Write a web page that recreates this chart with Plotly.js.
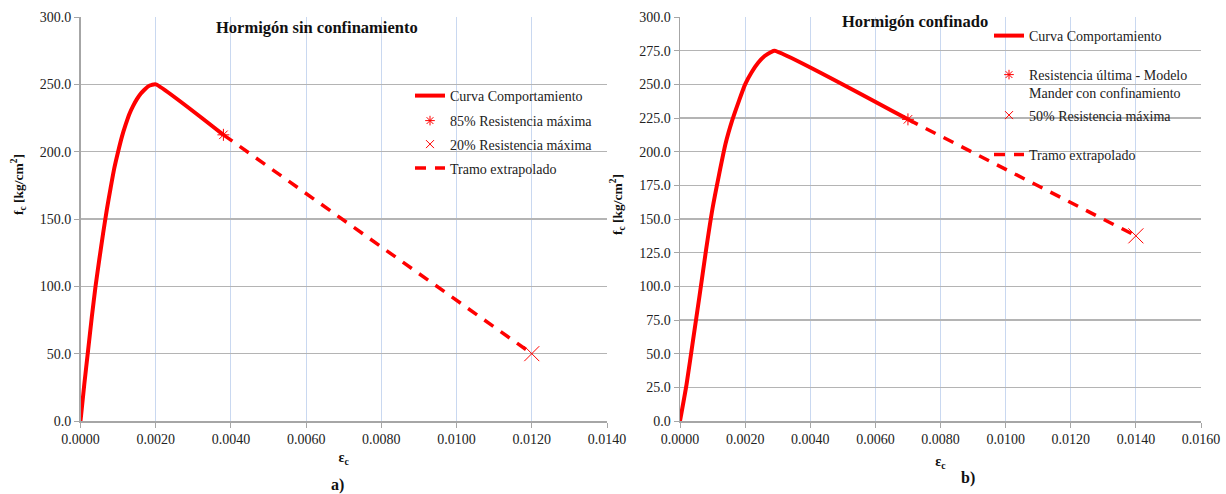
<!DOCTYPE html>
<html>
<head>
<meta charset="utf-8">
<script src="https://cdn.plot.ly/plotly-3.0.1.min.js"></script>
<style>
  html, body { margin: 0; padding: 0; background: #ffffff; }
  #chart { width: 1226px; height: 494px; }
</style>
</head>
<body>
<div id="chart"></div>
<script>
// a) Hormigón sin confinamiento — curva tensión-deformación
const epsSin = [0, 0.0001, 0.0002, 0.0003, 0.0004, 0.0005, 0.0006, 0.0007, 0.0008, 0.0009,
                0.0010, 0.0011, 0.0012, 0.0013, 0.0014, 0.0015, 0.0016, 0.0017, 0.0018, 0.0019,
                0.0020, 0.0038];
const fcSin = [0, 27, 52, 77, 100, 120, 139, 157, 173, 188,
               200, 211, 220, 228, 234, 239, 243, 246, 248.5, 249.6,
               250, 212.5];
const epsSinExt = [0.0038, 0.0120];
const fcSinExt = [212.5, 50];
const eps85 = [0.0038];
const fc85 = [212.5];
const eps20 = [0.0120];
const fc20 = [50];

// b) Hormigón confinado — curva tensión-deformación
const epsCon = [0, 0.0002, 0.0004, 0.0006, 0.0008, 0.0010, 0.0012, 0.0014, 0.0016, 0.0018,
                0.0020, 0.0022, 0.0024, 0.0026, 0.0028, 0.0029, 0.0070];
const fcCon = [0, 27, 60, 93, 127, 158, 183, 206, 223, 237,
               250, 259, 266, 271, 274, 275, 224];
const epsConExt = [0.0070, 0.0140];
const fcConExt = [224, 137.5];
const epsUlt = [0.0070];
const fcUlt = [224];
const eps50 = [0.0140];
const fc50 = [137.5];

// tick labels
const xTicksA = [0, 0.002, 0.004, 0.006, 0.008, 0.010, 0.012, 0.014];
const xTicksB = [0, 0.002, 0.004, 0.006, 0.008, 0.010, 0.012, 0.014, 0.016];

const RED = '#ff0000';
const SERIF = '"Liberation Serif", "Times New Roman", serif';
const W = 1226, H = 494;
const px = v => v / W;
const py = v => 1 - v / H;

const solidLine = { color: RED, width: 4, shape: 'spline', smoothing: 0.6 };
const dashLine = { color: RED, width: 3.5, dash: '11px,9px' };
const star = (size) => ({ symbol: 'asterisk-open', size: size, color: RED, line: { color: RED, width: 1 } });
const cross = (size) => ({ symbol: 'x-thin-open', size: size, color: RED, line: { color: RED, width: 1 } });

const traces = [
  // panel a
  { x: epsSin, y: fcSin, xaxis: 'x', yaxis: 'y', mode: 'lines', line: solidLine,
    name: 'Curva Comportamiento', legend: 'legend' },
  { x: epsSinExt, y: fcSinExt, xaxis: 'x', yaxis: 'y', mode: 'lines', line: dashLine,
    name: 'Tramo extrapolado', legend: 'legend4' },
  { x: eps85, y: fc85, xaxis: 'x', yaxis: 'y', mode: 'markers', marker: star(10),
    name: '85% Resistencia máxima', showlegend: false },
  { x: eps20, y: fc20, xaxis: 'x', yaxis: 'y', mode: 'markers', marker: cross(15),
    name: '20% Resistencia máxima', showlegend: false },
  // legend entries for the marker series (legend-sized symbols)
  { x: [null], y: [null], xaxis: 'x', yaxis: 'y', mode: 'markers', marker: star(8),
    name: '85% Resistencia máxima', legend: 'legend2' },
  { x: [null], y: [null], xaxis: 'x', yaxis: 'y', mode: 'markers', marker: cross(8),
    name: '20% Resistencia máxima', legend: 'legend3' },

  // panel b
  { x: epsCon, y: fcCon, xaxis: 'x2', yaxis: 'y2', mode: 'lines', line: solidLine,
    name: 'Curva Comportamiento', legend: 'legend5' },
  { x: epsConExt, y: fcConExt, xaxis: 'x2', yaxis: 'y2', mode: 'lines', line: dashLine,
    name: 'Tramo extrapolado', legend: 'legend8' },
  { x: epsUlt, y: fcUlt, xaxis: 'x2', yaxis: 'y2', mode: 'markers', marker: star(10),
    name: 'Resistencia última - Modelo Mander con confinamiento', showlegend: false },
  { x: eps50, y: fc50, xaxis: 'x2', yaxis: 'y2', mode: 'markers', marker: cross(15),
    name: '50% Resistencia máxima', showlegend: false },
  { x: [null], y: [null], xaxis: 'x2', yaxis: 'y2', mode: 'markers', marker: star(8),
    name: 'Resistencia última - Modelo<br>Mander con confinamiento', legend: 'legend6' },
  { x: [null], y: [null], xaxis: 'x2', yaxis: 'y2', mode: 'markers', marker: cross(8),
    name: '50% Resistencia máxima', legend: 'legend7' }
];

const tickFont = { family: SERIF, size: 14, color: '#222' };
const baseX = {
  range: [0, 0.014], tickformat: '.4f', showgrid: true, gridcolor: '#c9d8f0', gridwidth: 1,
  zeroline: false, showline: true, linecolor: '#a6a6a6', linewidth: 1.5,
  ticks: 'outside', ticklen: 5, tickcolor: '#a6a6a6', tickfont: tickFont,
  fixedrange: true
};
const baseY = {
  showgrid: true, gridcolor: '#b4b4b4', gridwidth: 1.5,
  zeroline: false, showline: true, linecolor: '#a6a6a6', linewidth: 1.5,
  ticks: 'outside', ticklen: 5, tickcolor: '#a6a6a6', tickfont: tickFont, tickformat: '.1f',
  fixedrange: true
};
const titleFont = { family: SERIF, size: 14, color: '#111' };

const yDom = [1 - 421 / H, 1 - 17 / H];

function legendAt(xPx, yPx, valign) {
  return {
    x: px(xPx), y: py(yPx), xanchor: 'left', yanchor: 'middle',
    bgcolor: 'rgba(0,0,0,0)', borderwidth: 0,
    font: { family: SERIF, size: 14, color: '#222' },
    itemwidth: 30, valign: valign || 'middle', itemclick: false, itemdoubleclick: false
  };
}

function label(text, xPx, yPx, size, angle) {
  return { text: text, xref: 'paper', yref: 'paper', x: px(xPx), y: py(yPx),
    xanchor: 'center', yanchor: 'middle', showarrow: false, textangle: angle || 0,
    font: { family: SERIF, size: size, color: '#111' } };
}

const yTitle = '<b>f<sub>c</sub> [kg/cm<sup>2</sup>]</b>';

const layout = {
  width: W, height: H,
  margin: { l: 0, r: 0, t: 0, b: 0 },
  paper_bgcolor: '#ffffff', plot_bgcolor: '#ffffff',
  showlegend: true,
  xaxis: Object.assign({}, baseX, { domain: [px(80.5), px(607)], anchor: 'y',
    tickvals: xTicksA,
    title: { text: '<b>ε<sub>c</sub></b>', font: titleFont, standoff: 6 } }),
  yaxis: Object.assign({}, baseY, { domain: yDom, anchor: 'x', range: [0, 300], dtick: 50 }),
  xaxis2: Object.assign({}, baseX, { domain: [px(680), px(1201)], anchor: 'y2',
    range: [0, 0.016], tickvals: xTicksB,
    title: { text: '<b>ε<sub>c</sub></b>', font: titleFont, standoff: 10 } }),
  yaxis2: Object.assign({}, baseY, { domain: yDom, anchor: 'x2', range: [0, 300], dtick: 25 }),

  legend: legendAt(410, 96),
  legend2: legendAt(410, 121),
  legend3: legendAt(410, 144.5),
  legend4: legendAt(410, 168.5),
  legend5: legendAt(989, 36),
  legend6: legendAt(989, 84, 'top'),
  legend7: legendAt(989, 115.5),
  legend8: legendAt(989, 155),

  annotations: [
    label('<b>Hormigón sin confinamiento</b>', 317, 28, 16.5),
    label('<b>Hormigón confinado</b>', 915, 22, 16.5),
    label('<b>a)</b>', 337, 485, 16),
    label('<b>b)</b>', 968, 478, 16),
    label(yTitle, 18, 185, 13.5, -90),
    label(yTitle, 617, 205, 13.5, -90)
  ]
};

Plotly.newPlot('chart', traces, layout, { staticPlot: true, displayModeBar: false });
</script>
</body>
</html>
